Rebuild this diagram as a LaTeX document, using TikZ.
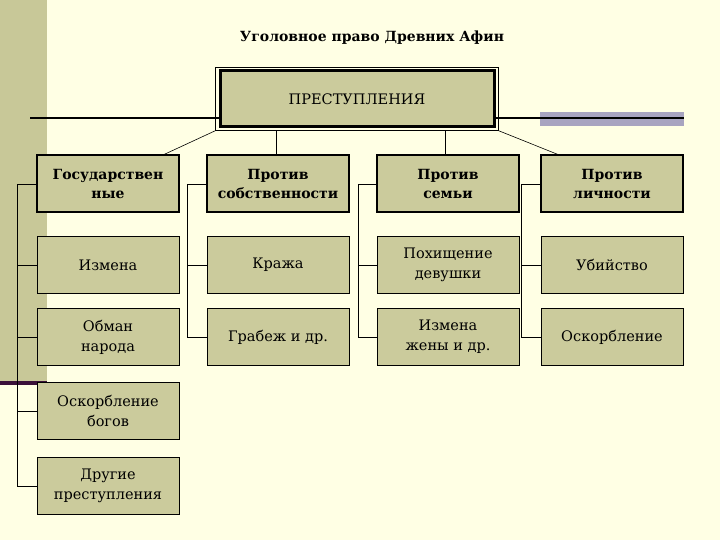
\documentclass[tikz,border=0pt]{standalone}
\usepackage{fontspec}
\setmainfont{DejaVu Serif}
\begin{document}
\begin{tikzpicture}[x=1pt,y=-1pt,
  bx/.style={draw=black,line width=1pt,fill=boxc,minimum width=142pt,minimum height=57pt,align=center,font=\fontsize{14.5}{20}\selectfont,inner sep=1pt},
  hd/.style={bx,line width=2pt,font=\bfseries\fontsize{14}{19}\selectfont},
  ln/.style={draw=black,line width=0.6pt}]
\definecolor{bgc}{HTML}{FFFFE4}
\definecolor{boxc}{HTML}{CBCB9C}
\definecolor{barc}{HTML}{C8C898}
\definecolor{purp}{HTML}{3A1038}
\definecolor{lav}{HTML}{A8A4C0}
\useasboundingbox (0,0) rectangle (720,540);
\fill[bgc] (0,0) rectangle (720,540);
\fill[barc] (0,0) rectangle (47,383);
\fill[purp] (0,381) rectangle (47,385);
\fill[lav] (540,112) rectangle (684,126);
\draw[line width=1.2pt] (30,118) -- (684,118);
\node[font=\bfseries\fontsize{14}{16}\selectfont] (title) at (372,38) {Уголовное право Древних Афин};
\node[draw=black,line width=0.5pt,minimum width=283pt,minimum height=63pt] (mainf) at (357,99) {};
\node[draw=black,line width=3pt,fill=boxc,minimum width=274pt,minimum height=56pt,font=\fontsize{14.5}{16}\selectfont] (main) at (357,99) {ПРЕСТУПЛЕНИЯ};
% headers
\node[hd] (h1) at (108,184) {Государствен\\ные};
\node[hd] (h2) at (278,184) {Против\\собственности};
\node[hd] (h3) at (448,184) {Против\\семьи};
\node[hd] (h4) at (612,184) {Против\\личности};
\node[bx] (a1) at (108,265) {Измена};
\node[bx] (a2) at (278,265) {Кража};
\node[bx] (a3) at (448,265) {Похищение\\девушки};
\node[bx] (a4) at (612,265) {Убийство};
\node[bx] (b1) at (108,337) {Обман\\народа};
\node[bx] (b2) at (278,337) {Грабеж и др.};
\node[bx] (b3) at (448,337) {Измена\\жены и др.};
\node[bx] (b4) at (612,337) {Оскорбление};
\node[bx] (c1) at (108,411) {Оскорбление\\богов};
\node[bx] (d1) at (108,486) {Другие\\преступления};
% top connectors
\draw[ln] (mainf.south west) -- ([xshift=-16pt]h1.north east);
\draw[ln] (mainf.south east) -- ([xshift=18pt]h4.north west);
\draw[ln] (mainf.south -| 276,0) -- (h2.north -| 276,0);
\draw[ln] (mainf.south -| 445,0) -- (h3.north -| 445,0);
% side trees
\draw[ln] (h1.west) -- ++(-19,0) |- (d1.west);
\draw[ln] (a1.west) -- ++(-19,0);
\draw[ln] (b1.west) -- ++(-19,0);
\draw[ln] (c1.west) -- ++(-19,0);
\draw[ln] (h2.west) -- ++(-19,0) |- (b2.west);
\draw[ln] (a2.west) -- ++(-19,0);
\draw[ln] (h3.west) -- ++(-18,0) |- (b3.west);
\draw[ln] (a3.west) -- ++(-18,0);
\draw[ln] (h4.west) -- ++(-19,0) |- (b4.west);
\draw[ln] (a4.west) -- ++(-19,0);
\end{tikzpicture}
\end{document}
